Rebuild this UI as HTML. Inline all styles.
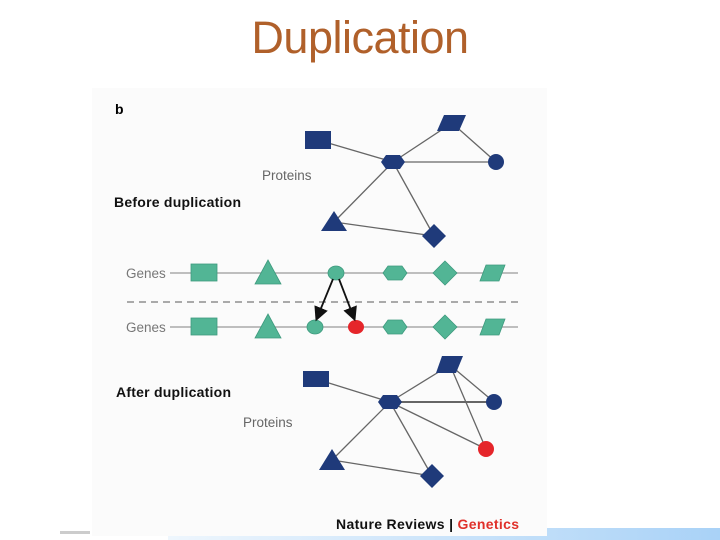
<!DOCTYPE html>
<html><head><style>
body{margin:0;width:720px;height:540px;background:#fff;overflow:hidden;position:relative;font-family:"Liberation Sans",sans-serif}
.t{position:absolute;left:0;width:720px;top:12px;text-align:center;font-size:45px;color:#b0602a;letter-spacing:-0.5px}
</style></head><body>
<div class="t">Duplication</div>
<div style="position:absolute;left:168px;top:528px;width:552px;height:12px;background:linear-gradient(90deg,#eef6fd,#a9d2f7)"></div>
<div style="position:absolute;left:60px;top:531px;width:30px;height:3px;background:#ccc"></div>
<svg width="720" height="540" style="position:absolute;left:0;top:0">
<rect x="92" y="88" width="455" height="448" fill="#fbfbfb"/>
<g font-family="Liberation Sans,sans-serif">
<text x="115" y="114" font-size="14" font-weight="bold">b</text>
<text x="114" y="207" font-size="14" font-weight="bold" fill="#111" textLength="127">Before duplication</text>
<text x="262" y="180" font-size="13.5" fill="#666">Proteins</text>
<text x="116" y="397" font-size="14" font-weight="bold" fill="#111" textLength="115">After duplication</text>
<text x="243" y="427" font-size="13.5" fill="#666">Proteins</text>
<text x="126" y="278" font-size="13.5" fill="#777">Genes</text>
<text x="126" y="332" font-size="13.5" fill="#777">Genes</text>
<text x="336" y="529" font-size="14" font-weight="bold" fill="#111" textLength="183">Nature Reviews | <tspan fill="#e0302a">Genetics</tspan></text>
</g>
<g stroke="#666" stroke-width="1.3">
<line x1="318" y1="140" x2="393" y2="162"/><line x1="393" y1="162" x2="452" y2="123"/><line x1="393" y1="162" x2="496" y2="162"/><line x1="452" y1="123" x2="496" y2="162"/><line x1="393" y1="162" x2="334" y2="222"/><line x1="393" y1="162" x2="434" y2="236"/><line x1="334" y1="222" x2="434" y2="236"/>
<line x1="316" y1="379" x2="390" y2="402"/><line x1="390" y1="402" x2="450" y2="365"/><line x1="390" y1="402" x2="494" y2="402" stroke-width="2"/><line x1="450" y1="365" x2="494" y2="402"/><line x1="450" y1="365" x2="486" y2="449"/><line x1="390" y1="402" x2="486" y2="449"/><line x1="390" y1="402" x2="332" y2="460"/><line x1="390" y1="402" x2="432" y2="476"/><line x1="332" y1="460" x2="432" y2="476"/>
</g>
<g stroke="#aaa" stroke-width="1.5"><line x1="170" y1="273" x2="518" y2="273"/><line x1="170" y1="327" x2="518" y2="327"/>
<line x1="127" y1="302" x2="518" y2="302" stroke-dasharray="7,5" stroke-width="2"/></g>
<g fill="#1f3a7a">
<rect x="305" y="131" width="26" height="18"/><polygon points="444,115 466,115 459,131 437,131"/><polygon points="381,162 386,155 400,155 405,162 400,169 386,169"/><circle cx="496" cy="162" r="8"/><polygon points="334,211 347,231 321,231"/><polygon points="434,224 446,236 434,248 422,236"/>
<rect x="303" y="371" width="26" height="16"/><polygon points="442,356 463,356 456,373 436,373"/><polygon points="378,402 383,395 397,395 402,402 397,409 383,409"/><circle cx="494" cy="402" r="8"/><polygon points="332,449 345,470 319,470"/><polygon points="432,464 444,476 432,488 420,476"/>
</g>
<circle cx="486" cy="449" r="8" fill="#e5252a"/>
<g fill="#52b595" stroke="#3e9a7e" stroke-width="0.8">
<rect x="191" y="264" width="26" height="17"/><polygon points="268,260 281,284 255,284"/><ellipse cx="336" cy="273" rx="8" ry="7"/><polygon points="383,273 388,266 402,266 407,273 402,280 388,280"/><polygon points="445,261 457,273 445,285 433,273"/><polygon points="486,265 505,265 499,281 480,281"/>
<rect x="191" y="318" width="26" height="17"/><polygon points="268,314 281,338 255,338"/><ellipse cx="315" cy="327" rx="8" ry="7"/><polygon points="383,327 388,320 402,320 407,327 402,334 388,334"/><polygon points="445,315 457,327 445,339 433,327"/><polygon points="486,319 505,319 499,335 480,335"/>
</g>
<ellipse cx="356" cy="327" rx="8" ry="7" fill="#e5252a"/>
<defs><marker id="a" markerWidth="8" markerHeight="8" refX="6" refY="4" orient="auto"><path d="M0,0L8,4L0,8z" fill="#111"/></marker></defs>
<g stroke="#111" stroke-width="1.8"><line x1="333" y1="279" x2="317" y2="318" marker-end="url(#a)"/><line x1="339" y1="279" x2="354" y2="318" marker-end="url(#a)"/></g>
</svg>
</body></html>
